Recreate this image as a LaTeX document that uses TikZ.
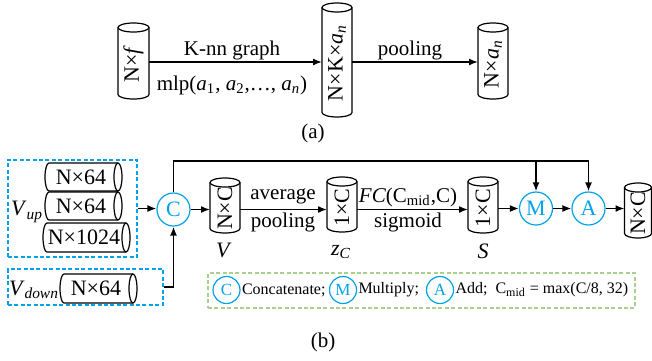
\documentclass[tikz,border=0pt]{standalone}
\usepackage{fontspec}
\setmainfont{Liberation Serif}
\usetikzlibrary{arrows.meta}
\definecolor{cblue}{RGB}{0,162,232}
\definecolor{lgreen}{RGB}{169,209,142}
\newcommand{\sbs}[1]{\textsubscript{#1}}
% vertical cylinder: name, cx, cy, length, diameter, text (all in px)
\newcommand{\vcylinder}[6]{%
  \pgfmathsetmacro\cyrx{#5/2}%
  \pgfmathsetmacro\cye{4.5}%
  \pgfmathsetmacro\cytop{#3-#4/2+\cye}%
  \pgfmathsetmacro\cybot{#3+#4/2-\cye}%
  \pgfmathsetmacro\cyw{#5/2}%
  \pgfmathsetmacro\cyh{#4/2}%
  \node[anc, minimum width=\cyw pt, minimum height=\cyh pt] (#1) at (#2,#3) {};
  \draw[cylline] (#2-\cyrx,\cytop) -- (#2-\cyrx,\cybot)
     arc[start angle=180, end angle=0, x radius=\cyrx, y radius=\cye] -- (#2+\cyrx,\cytop);
  \draw[cylline] (#2,\cytop) ellipse [x radius=\cyrx, y radius=\cye];
  \node[vtxt] (#1t) at (#2,#3+3) {#6};
}
% horizontal cylinder: name, cx, cy, length, diameter, text (all in px)
\newcommand{\hcylinder}[6]{%
  \pgfmathsetmacro\cyry{#5/2}%
  \pgfmathsetmacro\cye{4}%
  \pgfmathsetmacro\cyl{#2-#4/2+\cye}%
  \pgfmathsetmacro\cyr{#2+#4/2-\cye}%
  \pgfmathsetmacro\cyw{#4/2}%
  \pgfmathsetmacro\cyh{#5/2}%
  \node[anc, minimum width=\cyw pt, minimum height=\cyh pt] (#1) at (#2,#3) {};
  \draw[cylline] (\cyr,#3-\cyry) -- (\cyl,#3-\cyry)
     arc[start angle=270, end angle=90, x radius=\cye, y radius=\cyry] -- (\cyr,#3+\cyry);
  \draw[cylline] (\cyr,#3) ellipse [x radius=\cye, y radius=\cyry];
  \node[ctxt] (#1t) at (#2-2.5,#3) {#6};
}
\begin{document}
\begin{tikzpicture}[x=0.5pt,y=-0.5pt,
  anc/.style={inner sep=0pt, outer sep=0pt},
  cylline/.style={line width=0.6pt},
  ctxt/.style={font=\fontsize{11}{11}\selectfont, inner sep=0pt},
  vtxt/.style={ctxt, rotate=90},
  arr/.style={-{Latex[length=4.5pt,width=3.5pt]}, line width=0.8pt},
  op/.style={circle, draw=cblue, line width=0.6pt, text=cblue, minimum size=16.5pt, inner sep=0pt, font=\fontsize{11}{11}\selectfont},
  lop/.style={circle, draw=cblue, line width=0.6pt, text=cblue, minimum size=13.5pt, inner sep=0pt, font=\fontsize{8.5}{8.5}\selectfont},
  lbl/.style={font=\fontsize{10.5}{10.5}\selectfont, inner sep=0pt},
  vlbl/.style={font=\fontsize{11}{11}\selectfont, inner sep=0pt},
  legt/.style={font=\fontsize{8}{8}\selectfont, inner sep=0pt, anchor=west},
  bbox/.style={draw=cblue, dash pattern=on 2pt off 1.2pt, line width=0.8pt, inner sep=0pt},
  gbox/.style={draw=lgreen, dash pattern=on 2pt off 1.2pt, line width=0.8pt, inner sep=0pt}
]
\useasboundingbox (0,0) rectangle (652,360);

% ---------- (a) ----------
\vcylinder{a1}{133.5}{61}{76}{31}{N×\textit{f}}
\vcylinder{a2}{337}{60}{114}{30}{N×K×\textit{a}\sbs{\textit{n}}}
\vcylinder{a3}{493}{61}{76}{30}{N×\textit{a}\sbs{\textit{n}}}
\draw[arr] (a1.east |- 0,62) -- (a2.west |- 0,62);
\draw[arr] (a2.east |- 0,62) -- (a3.west |- 0,62);
\node[lbl] (kn) at (232,50) {K-nn graph};
\node[lbl] (mlp) at (232,85) {mlp(\textit{a}\sbs{1}, \textit{a}\sbs{2},…, \textit{a}\sbs{\textit{n}})};
\node[lbl] (pool1) at (410,50) {pooling};
\node[lbl] (capa) at (313,133) {(a)};

% ---------- (b) ----------
\node[bbox, minimum width=64.5pt, minimum height=48.5pt] (vup) at (72.5,208.5) {};
\node[bbox, minimum width=77.5pt, minimum height=18pt] (vdown) at (85.5,287) {};
\hcylinder{u1}{83.5}{177}{77}{28}{N×64}
\hcylinder{u2}{83.5}{206}{77}{28}{N×64}
\hcylinder{u3}{86.5}{237.5}{87}{29}{N×1024}
\hcylinder{d1}{98.5}{288.5}{77}{29}{N×64}
\node[vlbl] (vupl) at (27,212) {\textit{V}\sbs{\textit{up}}};
\node[vlbl] (vdownl) at (34,290) {\textit{V}\sbs{\textit{down}}};

\node[op] (C) at (173.5,209.5) {C};
\node[op] (M) at (536,208.5) {M};
\node[op] (A) at (588.5,208.5) {A};
\coordinate (yl) at (0,161);

\draw[arr] (vup.east) -- (vup.east -| C.west);
\draw[arr] (vdown.east) -| (C.south);
\draw[arr] (C.north) |- (yl -| A) -- (A.north);
\draw[arr] (yl -| M) -- (M.north);

\vcylinder{V}{225}{205.5}{55}{30}{N×C}
\vcylinder{zc}{342}{204.5}{55}{30}{1×C}
\vcylinder{S}{483}{205}{56}{30}{1×C}
\vcylinder{out}{638}{210.5}{55}{27}{N×C}

\node[vlbl] (Vl) at (224,250) {\textit{V}};
\node[vlbl] (zcl) at (341,252) {\textit{z}\sbs{\textit{C}}};
\node[vlbl] (Sl) at (483,251) {\textit{S}};

\draw[arr] (C.east) -- (C.east -| V.west);
\draw[arr] (C -| V.east) -- (C -| zc.west);
\draw[arr] (C -| zc.east) -- (C -| S.west);
\draw[arr] (M -| S.east) -- (M.west);
\draw[arr] (M.east) -- (A.west);
\draw[arr] (A.east) -- (A -| out.west);

\node[lbl] (avg) at (283,196) {average};
\node[lbl] (pool2) at (283,222) {pooling};
\node[lbl] (fc) at (408,197) {\textit{FC}(C\sbs{mid},C)};
\node[lbl] (sig) at (408,222) {sigmoid};

% legend
\node[gbox, minimum width=213.5pt, minimum height=17.5pt] (leg) at (421.5,290.5) {};
\node[lop] (lc) at (226.5,290) {C};
\node[lop] (lm) at (343,290) {M};
\node[lop] (la) at (440,290) {A};
\node[legt] (tc) at ([xshift=0.5pt]lc.east) {Concatenate;};
\node[legt] (tm) at ([xshift=0.5pt]lm.east) {Multiply;};
\node[legt] (ta) at ([xshift=0.5pt]la.east) {Add;\ \ C\sbs{mid} = max(C/8, 32)};

\node[lbl] (capb) at (323,342) {(b)};
\end{tikzpicture}
\end{document}
